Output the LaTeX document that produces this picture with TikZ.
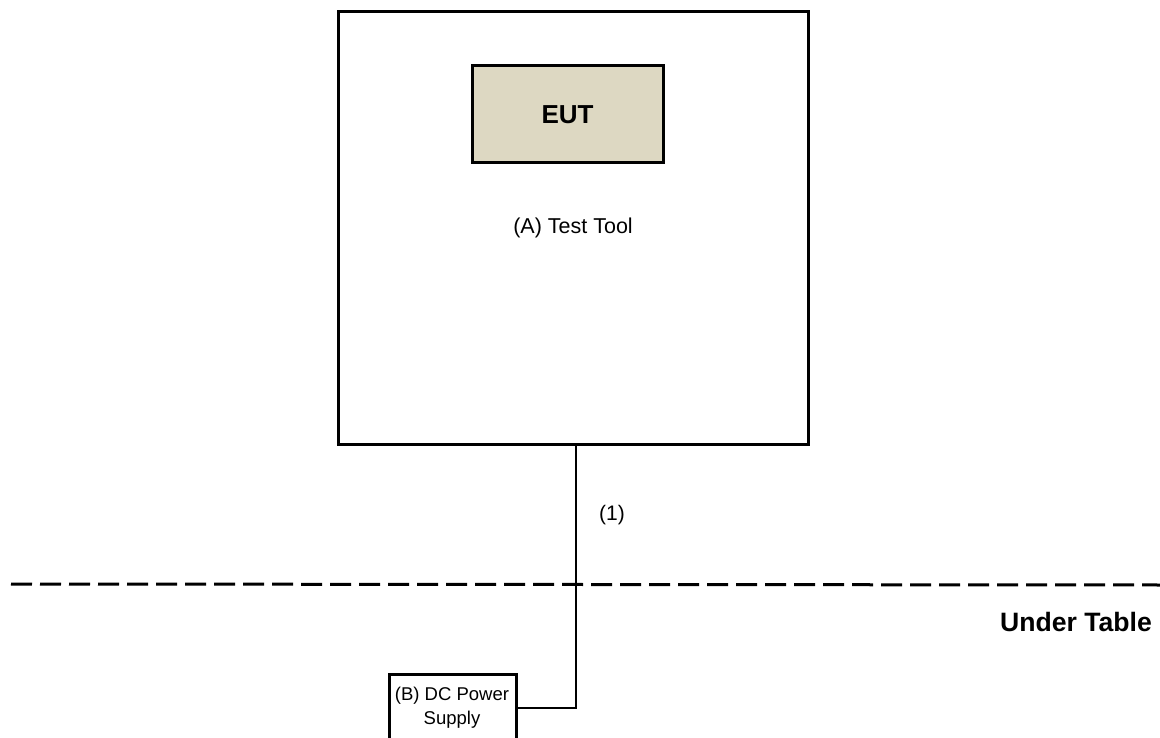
\documentclass[tikz,border=0pt]{standalone}
\usepackage{fontspec}
\setmainfont{Liberation Sans}
\begin{document}
\begin{tikzpicture}[x=1pt,y=-1pt,
  box/.style={draw=black,line width=3pt,rectangle,inner sep=0pt},
  wire/.style={draw=black,line width=2.6pt},
  lbl/.style={font=\fontsize{21.5}{26}\selectfont,inner sep=0pt}]
\definecolor{eutfill}{HTML}{DDD8C2}
\clip (0,0) rectangle (1160,738);
\useasboundingbox (0,0) rectangle (1160,738);
\node[box,minimum width=470pt,minimum height=432pt,lbl] (tt) at (573,228) {(A) Test Tool};
\node[box,fill=eutfill,minimum width=191pt,minimum height=97pt,font=\bfseries\fontsize{26}{30}\selectfont] (eut) at (567.5,114.5) {EUT};
\node[box,line width=2.6pt,minimum width=127pt,minimum height=90pt,anchor=north west] (dc) at (388,673) {};
\node[inner sep=0pt,font=\fontsize{18.5}{24}\selectfont,align=center] (dclbl) at (452,708) {(B) DC Power\\Supply};
\coordinate (bend) at (576,708);
\draw[wire] (tt.south -| bend) -- (bend) -- (dc.east |- bend);
\node[inner sep=0pt,font=\fontsize{21}{24}\selectfont] (one) at (612,515) {(1)};
\coordinate (tl) at (11,584);
\coordinate (tr) at (1160,585);
\draw[black,line width=3pt,dash pattern=on 21pt off 8pt] (tl) -- (tr);
\node[font=\bfseries\fontsize{26.6}{30}\selectfont,inner sep=0pt,anchor=east] (ut) at (1152,622) {Under Table};
\end{tikzpicture}
\end{document}
